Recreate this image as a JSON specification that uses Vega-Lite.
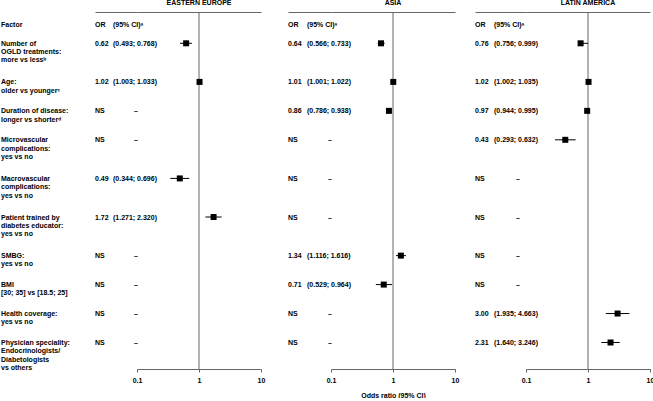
{
  "$schema": "https://vega.github.io/schema/vega-lite/v6.json",
  "padding": {"top": -2, "left": 0, "right": 0, "bottom": 0},
  "autosize": {"type": "pad"},
  "spacing": 0,
  "bounds": "flush",
  "resolve": {"scale": {"x": "independent", "y": "independent"}},
  "datasets": {
    "factors": [
      {"key": "header", "label": "Factor"},
      {"key": "ogld", "label": "Number of\nOGLD treatments:\nmore vs less\u1d47"},
      {"key": "age", "label": "Age:\nolder vs younger\u1d9c"},
      {"key": "dur", "label": "Duration of disease:\nlonger vs shorter\u1d48"},
      {"key": "micro", "label": "Microvascular\ncomplications:\nyes vs no"},
      {"key": "macro", "label": "Macrovascular\ncomplications:\nyes vs no"},
      {"key": "trained", "label": "Patient trained by\ndiabetes educator:\nyes vs no"},
      {"key": "smbg", "label": "SMBG:\nyes vs no"},
      {"key": "bmi", "label": "BMI\n[30; 35] vs [18.5; 25]"},
      {"key": "health", "label": "Health coverage:\nyes vs no"},
      {"key": "phys", "label": "Physician speciality:\nEndocrinologists/\nDiabetologists\nvs others"}
    ],
    "rows": [
      {"region": "EE", "key": "header", "kind": "header", "or_txt": "OR", "ci_txt": "(95% CI)\u1d43", "or": null, "lo": null, "hi": null},
      {"region": "EE", "key": "ogld", "kind": "value", "or_txt": "0.62", "ci_txt": "(0.493; 0.768)", "or": 0.62, "lo": 0.493, "hi": 0.768},
      {"region": "EE", "key": "age", "kind": "value", "or_txt": "1.02", "ci_txt": "(1.003; 1.033)", "or": 1.02, "lo": 1.003, "hi": 1.033},
      {"region": "EE", "key": "dur", "kind": "ns", "or_txt": "NS", "ci_txt": "\u2013", "or": null, "lo": null, "hi": null},
      {"region": "EE", "key": "micro", "kind": "ns", "or_txt": "NS", "ci_txt": "\u2013", "or": null, "lo": null, "hi": null},
      {"region": "EE", "key": "macro", "kind": "value", "or_txt": "0.49", "ci_txt": "(0.344; 0.696)", "or": 0.49, "lo": 0.344, "hi": 0.696},
      {"region": "EE", "key": "trained", "kind": "value", "or_txt": "1.72", "ci_txt": "(1.271; 2.320)", "or": 1.72, "lo": 1.271, "hi": 2.32},
      {"region": "EE", "key": "smbg", "kind": "ns", "or_txt": "NS", "ci_txt": "\u2013", "or": null, "lo": null, "hi": null},
      {"region": "EE", "key": "bmi", "kind": "ns", "or_txt": "NS", "ci_txt": "\u2013", "or": null, "lo": null, "hi": null},
      {"region": "EE", "key": "health", "kind": "ns", "or_txt": "NS", "ci_txt": "\u2013", "or": null, "lo": null, "hi": null},
      {"region": "EE", "key": "phys", "kind": "ns", "or_txt": "NS", "ci_txt": "\u2013", "or": null, "lo": null, "hi": null},

      {"region": "AS", "key": "header", "kind": "header", "or_txt": "OR", "ci_txt": "(95% CI)\u1d43", "or": null, "lo": null, "hi": null},
      {"region": "AS", "key": "ogld", "kind": "value", "or_txt": "0.64", "ci_txt": "(0.566; 0.733)", "or": 0.64, "lo": 0.566, "hi": 0.733},
      {"region": "AS", "key": "age", "kind": "value", "or_txt": "1.01", "ci_txt": "(1.001; 1.022)", "or": 1.01, "lo": 1.001, "hi": 1.022},
      {"region": "AS", "key": "dur", "kind": "value", "or_txt": "0.86", "ci_txt": "(0.786; 0.938)", "or": 0.86, "lo": 0.786, "hi": 0.938},
      {"region": "AS", "key": "micro", "kind": "ns", "or_txt": "NS", "ci_txt": "\u2013", "or": null, "lo": null, "hi": null},
      {"region": "AS", "key": "macro", "kind": "ns", "or_txt": "NS", "ci_txt": "\u2013", "or": null, "lo": null, "hi": null},
      {"region": "AS", "key": "trained", "kind": "ns", "or_txt": "NS", "ci_txt": "\u2013", "or": null, "lo": null, "hi": null},
      {"region": "AS", "key": "smbg", "kind": "value", "or_txt": "1.34", "ci_txt": "(1.116; 1.616)", "or": 1.34, "lo": 1.116, "hi": 1.616},
      {"region": "AS", "key": "bmi", "kind": "value", "or_txt": "0.71", "ci_txt": "(0.529; 0.964)", "or": 0.71, "lo": 0.529, "hi": 0.964},
      {"region": "AS", "key": "health", "kind": "ns", "or_txt": "NS", "ci_txt": "\u2013", "or": null, "lo": null, "hi": null},
      {"region": "AS", "key": "phys", "kind": "ns", "or_txt": "NS", "ci_txt": "\u2013", "or": null, "lo": null, "hi": null},

      {"region": "LA", "key": "header", "kind": "header", "or_txt": "OR", "ci_txt": "(95% CI)\u1d43", "or": null, "lo": null, "hi": null},
      {"region": "LA", "key": "ogld", "kind": "value", "or_txt": "0.76", "ci_txt": "(0.756; 0.999)", "or": 0.76, "lo": 0.756, "hi": 0.999},
      {"region": "LA", "key": "age", "kind": "value", "or_txt": "1.02", "ci_txt": "(1.002; 1.035)", "or": 1.02, "lo": 1.002, "hi": 1.035},
      {"region": "LA", "key": "dur", "kind": "value", "or_txt": "0.97", "ci_txt": "(0.944; 0.995)", "or": 0.97, "lo": 0.944, "hi": 0.995},
      {"region": "LA", "key": "micro", "kind": "value", "or_txt": "0.43", "ci_txt": "(0.293; 0.632)", "or": 0.43, "lo": 0.293, "hi": 0.632},
      {"region": "LA", "key": "macro", "kind": "ns", "or_txt": "NS", "ci_txt": "\u2013", "or": null, "lo": null, "hi": null},
      {"region": "LA", "key": "trained", "kind": "ns", "or_txt": "NS", "ci_txt": "\u2013", "or": null, "lo": null, "hi": null},
      {"region": "LA", "key": "smbg", "kind": "ns", "or_txt": "NS", "ci_txt": "\u2013", "or": null, "lo": null, "hi": null},
      {"region": "LA", "key": "bmi", "kind": "ns", "or_txt": "NS", "ci_txt": "\u2013", "or": null, "lo": null, "hi": null},
      {"region": "LA", "key": "health", "kind": "value", "or_txt": "3.00", "ci_txt": "(1.935; 4.663)", "or": 3.0, "lo": 1.935, "hi": 4.663},
      {"region": "LA", "key": "phys", "kind": "value", "or_txt": "2.31", "ci_txt": "(1.640; 3.246)", "or": 2.31, "lo": 1.64, "hi": 3.246}
    ]
  },
  "hconcat": [
    {
      "width": 95, "height": 357,
      "data": {"name": "factors"},
      "mark": {"type": "text", "align": "left", "baseline": "alphabetic", "dy": 2.5, "lineBreak": "\n", "lineHeight": 8.3},
      "encoding": {
        "x": {"value": 1},
        "y": {"field": "key", "type": "nominal", "axis": null, "scale": {"type": "point", "padding": 0.995, "align": 0.1223, "domain": ["top_s","header","header_s1","ogld","ogld_s1","ogld_s2","ogld_s3","age","age_s1","age_s2","dur","dur_s1","dur_s2","micro","micro_s1","micro_s2","micro_s3","macro","macro_s1","macro_s2","macro_s3","trained","trained_s1","trained_s2","trained_s3","smbg","smbg_s1","smbg_s2","bmi","bmi_s1","bmi_s2","health","health_s1","health_s2","phys","bottom_s"]}},
        "text": {"field": "label"}
      }
    },
    {
      "width": 42, "height": 357,
      "data": {"name": "rows"},
      "transform": [{"filter": "datum.region === 'EE'"}],
      "encoding": {
        "y": {"field": "key", "type": "nominal", "axis": null, "scale": {"type": "point", "padding": 0.995, "align": 0.1223, "domain": ["top_s","header","header_s1","ogld","ogld_s1","ogld_s2","ogld_s3","age","age_s1","age_s2","dur","dur_s1","dur_s2","micro","micro_s1","micro_s2","micro_s3","macro","macro_s1","macro_s2","macro_s3","trained","trained_s1","trained_s2","trained_s3","smbg","smbg_s1","smbg_s2","bmi","bmi_s1","bmi_s2","health","health_s1","health_s2","phys","bottom_s"]}}
      },
      "layer": [
        {"mark": {"type": "text", "align": "left", "baseline": "alphabetic", "dy": 2.5},
         "encoding": {"x": {"datum": 0, "type": "quantitative", "scale": {"domain": [0, 42], "range": [0, 42], "nice": false, "zero": false}, "axis": {"orient": "top", "labels": false, "ticks": false, "grid": false, "title": null, "domainColor": "#666"}}, "text": {"field": "or_txt"}}},
        {"transform": [{"filter": "datum.kind !== 'ns'"}],
         "mark": {"type": "text", "align": "left", "baseline": "alphabetic", "dy": 2.5},
         "encoding": {"x": {"datum": 18, "type": "quantitative"}, "text": {"field": "ci_txt"}}},
        {"transform": [{"filter": "datum.kind === 'ns'"}],
         "mark": {"type": "text", "align": "center", "baseline": "alphabetic", "dy": 2.5},
         "encoding": {"x": {"datum": 41, "type": "quantitative"}, "text": {"field": "ci_txt"}}}
      ]
    },
    {
      "width": 124, "height": 357,
      "title": "EASTERN EUROPE",
      "data": {"name": "rows"},
      "transform": [{"filter": "datum.region === 'EE'"}],
      "layer": [
        {"data": {"values": [{"ref": 1}]},
         "mark": {"type": "rule", "color": "#666", "strokeWidth": 1},
         "encoding": {"x": {"field": "ref", "type": "quantitative", "scale": {"type": "log", "domain": [0.1, 10], "nice": false}, "axis": {"orient": "bottom", "values": [0.1, 1, 10], "format": "~g", "title": null, "grid": false, "tickSize": 3, "labelPadding": 4, "labelFlush": false, "labelOverlap": false, "domainColor": "#666", "tickColor": "#666"}}}},
        {"transform": [{"filter": "datum.kind === 'value'"}],
         "mark": {"type": "rule", "color": "black", "strokeWidth": 1},
         "encoding": {"x": {"field": "lo", "type": "quantitative", "axis": {"orient": "top", "labels": false, "ticks": false, "grid": false, "title": null, "domainColor": "#666"}}, "x2": {"field": "hi"},
           "y": {"field": "key", "type": "nominal", "axis": null, "scale": {"type": "point", "padding": 0.995, "align": 0.1223, "domain": ["top_s","header","header_s1","ogld","ogld_s1","ogld_s2","ogld_s3","age","age_s1","age_s2","dur","dur_s1","dur_s2","micro","micro_s1","micro_s2","micro_s3","macro","macro_s1","macro_s2","macro_s3","trained","trained_s1","trained_s2","trained_s3","smbg","smbg_s1","smbg_s2","bmi","bmi_s1","bmi_s2","health","health_s1","health_s2","phys","bottom_s"]}}}},
        {"transform": [{"filter": "datum.kind === 'value'"}],
         "mark": {"type": "point", "shape": "square", "filled": true, "size": 36, "color": "black", "opacity": 1},
         "encoding": {"x": {"field": "or", "type": "quantitative", "axis": null},
           "y": {"field": "key", "type": "nominal", "axis": null}}}
      ],
      "resolve": {"axis": {"x": "independent"}}
    },
    {
      "width": 70, "height": 357,
      "data": {"name": "rows"},
      "transform": [{"filter": "datum.region === 'AS'"}],
      "encoding": {
        "y": {"field": "key", "type": "nominal", "axis": null, "scale": {"type": "point", "padding": 0.995, "align": 0.1223, "domain": ["top_s","header","header_s1","ogld","ogld_s1","ogld_s2","ogld_s3","age","age_s1","age_s2","dur","dur_s1","dur_s2","micro","micro_s1","micro_s2","micro_s3","macro","macro_s1","macro_s2","macro_s3","trained","trained_s1","trained_s2","trained_s3","smbg","smbg_s1","smbg_s2","bmi","bmi_s1","bmi_s2","health","health_s1","health_s2","phys","bottom_s"]}}
      },
      "layer": [
        {"mark": {"type": "text", "align": "left", "baseline": "alphabetic", "dy": 2.5},
         "encoding": {"x": {"datum": 27, "type": "quantitative", "scale": {"domain": [27, 70], "range": [27, 70], "nice": false, "zero": false}, "axis": {"orient": "top", "labels": false, "ticks": false, "grid": false, "title": null, "domainColor": "#666"}}, "text": {"field": "or_txt"}}},
        {"transform": [{"filter": "datum.kind !== 'ns'"}],
         "mark": {"type": "text", "align": "left", "baseline": "alphabetic", "dy": 2.5},
         "encoding": {"x": {"datum": 46, "type": "quantitative"}, "text": {"field": "ci_txt"}}},
        {"transform": [{"filter": "datum.kind === 'ns'"}],
         "mark": {"type": "text", "align": "center", "baseline": "alphabetic", "dy": 2.5},
         "encoding": {"x": {"datum": 69, "type": "quantitative"}, "text": {"field": "ci_txt"}}}
      ]
    },
    {
      "width": 124, "height": 357,
      "title": "ASIA",
      "data": {"name": "rows"},
      "transform": [{"filter": "datum.region === 'AS'"}],
      "layer": [
        {"data": {"values": [{"ref": 1}]},
         "mark": {"type": "rule", "color": "#666", "strokeWidth": 1},
         "encoding": {"x": {"field": "ref", "type": "quantitative", "scale": {"type": "log", "domain": [0.1, 10], "nice": false}, "axis": {"orient": "bottom", "values": [0.1, 1, 10], "format": "~g", "title": "Odds ratio (95% CI)", "titlePadding": 8, "grid": false, "tickSize": 3, "labelPadding": 4, "labelFlush": false, "labelOverlap": false, "domainColor": "#666", "tickColor": "#666"}}}},
        {"transform": [{"filter": "datum.kind === 'value'"}],
         "mark": {"type": "rule", "color": "black", "strokeWidth": 1},
         "encoding": {"x": {"field": "lo", "type": "quantitative", "axis": {"orient": "top", "labels": false, "ticks": false, "grid": false, "title": null, "domainColor": "#666"}}, "x2": {"field": "hi"},
           "y": {"field": "key", "type": "nominal", "axis": null, "scale": {"type": "point", "padding": 0.995, "align": 0.1223, "domain": ["top_s","header","header_s1","ogld","ogld_s1","ogld_s2","ogld_s3","age","age_s1","age_s2","dur","dur_s1","dur_s2","micro","micro_s1","micro_s2","micro_s3","macro","macro_s1","macro_s2","macro_s3","trained","trained_s1","trained_s2","trained_s3","smbg","smbg_s1","smbg_s2","bmi","bmi_s1","bmi_s2","health","health_s1","health_s2","phys","bottom_s"]}}}},
        {"transform": [{"filter": "datum.kind === 'value'"}],
         "mark": {"type": "point", "shape": "square", "filled": true, "size": 36, "color": "black", "opacity": 1},
         "encoding": {"x": {"field": "or", "type": "quantitative", "axis": null},
           "y": {"field": "key", "type": "nominal", "axis": null}}}
      ],
      "resolve": {"axis": {"x": "independent"}}
    },
    {
      "width": 71, "height": 357,
      "data": {"name": "rows"},
      "transform": [{"filter": "datum.region === 'LA'"}],
      "encoding": {
        "y": {"field": "key", "type": "nominal", "axis": null, "scale": {"type": "point", "padding": 0.995, "align": 0.1223, "domain": ["top_s","header","header_s1","ogld","ogld_s1","ogld_s2","ogld_s3","age","age_s1","age_s2","dur","dur_s1","dur_s2","micro","micro_s1","micro_s2","micro_s3","macro","macro_s1","macro_s2","macro_s3","trained","trained_s1","trained_s2","trained_s3","smbg","smbg_s1","smbg_s2","bmi","bmi_s1","bmi_s2","health","health_s1","health_s2","phys","bottom_s"]}}
      },
      "layer": [
        {"mark": {"type": "text", "align": "left", "baseline": "alphabetic", "dy": 2.5},
         "encoding": {"x": {"datum": 20, "type": "quantitative", "scale": {"domain": [20, 71], "range": [20, 71], "nice": false, "zero": false}, "axis": {"orient": "top", "labels": false, "ticks": false, "grid": false, "title": null, "domainColor": "#666"}}, "text": {"field": "or_txt"}}},
        {"transform": [{"filter": "datum.kind !== 'ns'"}],
         "mark": {"type": "text", "align": "left", "baseline": "alphabetic", "dy": 2.5},
         "encoding": {"x": {"datum": 39, "type": "quantitative"}, "text": {"field": "ci_txt"}}},
        {"transform": [{"filter": "datum.kind === 'ns'"}],
         "mark": {"type": "text", "align": "center", "baseline": "alphabetic", "dy": 2.5},
         "encoding": {"x": {"datum": 63, "type": "quantitative"}, "text": {"field": "ci_txt"}}}
      ]
    },
    {
      "width": 124, "height": 357,
      "title": "LATIN AMERICA",
      "data": {"name": "rows"},
      "transform": [{"filter": "datum.region === 'LA'"}],
      "layer": [
        {"data": {"values": [{"ref": 1}]},
         "mark": {"type": "rule", "color": "#666", "strokeWidth": 1},
         "encoding": {"x": {"field": "ref", "type": "quantitative", "scale": {"type": "log", "domain": [0.1, 10], "nice": false}, "axis": {"orient": "bottom", "values": [0.1, 1, 10], "format": "~g", "title": null, "grid": false, "tickSize": 3, "labelPadding": 4, "labelFlush": false, "labelOverlap": false, "domainColor": "#666", "tickColor": "#666"}}}},
        {"transform": [{"filter": "datum.kind === 'value'"}],
         "mark": {"type": "rule", "color": "black", "strokeWidth": 1},
         "encoding": {"x": {"field": "lo", "type": "quantitative", "axis": {"orient": "top", "labels": false, "ticks": false, "grid": false, "title": null, "domainColor": "#666"}}, "x2": {"field": "hi"},
           "y": {"field": "key", "type": "nominal", "axis": null, "scale": {"type": "point", "padding": 0.995, "align": 0.1223, "domain": ["top_s","header","header_s1","ogld","ogld_s1","ogld_s2","ogld_s3","age","age_s1","age_s2","dur","dur_s1","dur_s2","micro","micro_s1","micro_s2","micro_s3","macro","macro_s1","macro_s2","macro_s3","trained","trained_s1","trained_s2","trained_s3","smbg","smbg_s1","smbg_s2","bmi","bmi_s1","bmi_s2","health","health_s1","health_s2","phys","bottom_s"]}}}},
        {"transform": [{"filter": "datum.kind === 'value'"}],
         "mark": {"type": "point", "shape": "square", "filled": true, "size": 36, "color": "black", "opacity": 1},
         "encoding": {"x": {"field": "or", "type": "quantitative", "axis": null},
           "y": {"field": "key", "type": "nominal", "axis": null}}}
      ],
      "resolve": {"axis": {"x": "independent"}}
    }
  ],
  "config": {
    "view": {"stroke": null},
    "font": "Liberation Sans",
    "text": {"font": "Liberation Sans", "fontSize": 7, "fontWeight": "bold", "color": "black"},
    "axis": {"labelFont": "Liberation Sans", "labelFontSize": 7, "labelFontWeight": "bold", "labelColor": "black", "titleFont": "Liberation Sans", "titleFontSize": 7, "titleFontWeight": "bold", "titleColor": "black", "domainWidth": 1, "tickWidth": 1},
    "title": {"font": "Liberation Sans", "fontSize": 7, "fontWeight": "bold", "color": "black", "anchor": "middle", "offset": 6, "baseline": "alphabetic"}
  }
}
